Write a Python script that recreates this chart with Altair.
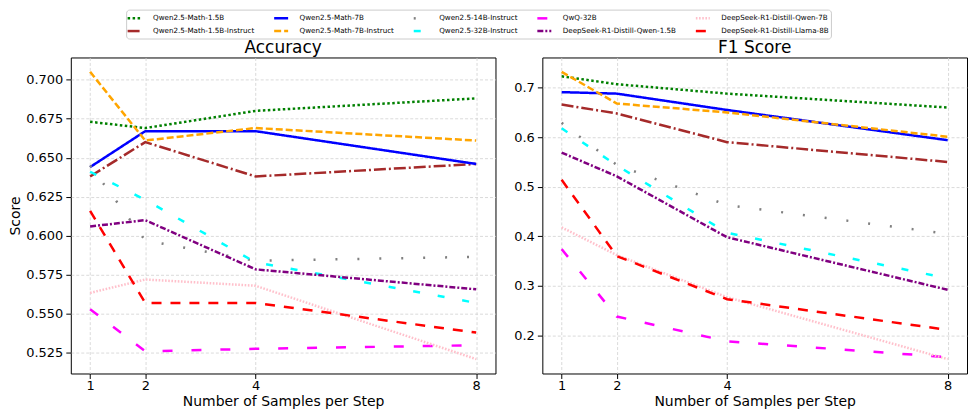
import altair as alt
import pandas as pd

steps = [1, 2, 4, 8]

# plotting order (also the legend's column-major order)
models = [
    "Qwen2.5-Math-1.5B", "Qwen2.5-Math-1.5B-Instruct", "Qwen2.5-Math-7B",
    "Qwen2.5-Math-7B-Instruct", "Qwen2.5-14B-Instruct", "Qwen2.5-32B-Instruct",
    "QwQ-32B", "DeepSeek-R1-Distill-Qwen-1.5B", "DeepSeek-R1-Distill-Qwen-7B",
    "DeepSeek-R1-Distill-Llama-8B",
]

# accuracy values
acc_math_1_5b = [0.673, 0.669, 0.680, 0.688]
acc_math_1_5b_inst = [0.638, 0.660, 0.638, 0.646]
acc_math_7b = [0.644, 0.667, 0.667, 0.646]
acc_math_7b_inst = [0.705, 0.661, 0.669, 0.661]
acc_14b_inst = [0.645, 0.597, 0.584, 0.5865]
acc_32b_inst = [0.641, 0.623, 0.583, 0.557]
acc_qwq = [0.553, 0.526, 0.5276, 0.5299]
acc_r1_qwen_1_5b = [0.606, 0.610, 0.5785, 0.5657]
acc_r1_qwen_7b = [0.5634, 0.572, 0.568, 0.521]
acc_r1_llama_8b = [0.616, 0.557, 0.557, 0.538]

# F1 values
f1_math_1_5b = [0.723, 0.707, 0.688, 0.660]
f1_math_1_5b_inst = [0.666, 0.648, 0.590, 0.550]
f1_math_7b = [0.691, 0.688, 0.655, 0.594]
f1_math_7b_inst = [0.732, 0.668, 0.650, 0.601]
f1_14b_inst = [0.629, 0.544, 0.463, 0.405]
f1_32b_inst = [0.618, 0.543, 0.407, 0.315]
f1_qwq = [0.374, 0.238, 0.188, 0.156]
f1_r1_qwen_1_5b = [0.569, 0.521, 0.398, 0.292]
f1_r1_qwen_7b = [0.418, 0.362, 0.277, 0.152]
f1_r1_llama_8b = [0.514, 0.360, 0.273, 0.211]

acc_series = [acc_math_1_5b, acc_math_1_5b_inst, acc_math_7b, acc_math_7b_inst,
              acc_14b_inst, acc_32b_inst, acc_qwq, acc_r1_qwen_1_5b,
              acc_r1_qwen_7b, acc_r1_llama_8b]
f1_series = [f1_math_1_5b, f1_math_1_5b_inst, f1_math_7b, f1_math_7b_inst,
             f1_14b_inst, f1_32b_inst, f1_qwq, f1_r1_qwen_1_5b,
             f1_r1_qwen_7b, f1_r1_llama_8b]

colors = ["green", "brown", "blue", "orange", "gray",
          "cyan", "magenta", "purple", "pink", "red"]
dashes = [[2.5, 2.5], [12, 3, 2, 3], [1, 0], [7, 3], [2, 20],
          [7, 18], [10, 19], [6, 2, 2, 2], [1.6, 1.6], [10, 9]]
widths = [2.5, 2.5, 2.5, 2.5, 2.2, 2.5, 2.5, 2.5, 2.0, 2.5]

rows = []
for m, a_vals, f_vals in zip(models, acc_series, f1_series):
    for s, a, f in zip(steps, a_vals, f_vals):
        rows.append({"metric": "acc", "model": m, "step": s, "value": a})
        rows.append({"metric": "f1", "model": m, "step": s, "value": f})
df = pd.DataFrame(rows)

FONT = "DejaVu Sans"
leg = alt.Legend(title=None)


def panel(metric, title, ydom, yticks, fmt, ytitle):
    if ytitle:
        yaxis = alt.Axis(values=yticks, format=fmt, title=ytitle)
    else:
        yaxis = alt.Axis(values=yticks, format=fmt, title=None)
    return alt.Chart(df[df.metric == metric]).mark_line(clip=True).encode(
        x=alt.X("step:Q", scale=alt.Scale(domain=[0.65, 8.35], nice=False, zero=False),
                axis=alt.Axis(values=steps, format="d", title="Number of Samples per Step")),
        y=alt.Y("value:Q", scale=alt.Scale(domain=ydom, nice=False, zero=False), axis=yaxis),
        color=alt.Color("model:N", scale=alt.Scale(domain=models, range=colors), legend=leg),
        strokeDash=alt.StrokeDash("model:N", scale=alt.Scale(domain=models, range=dashes), legend=leg),
        strokeWidth=alt.StrokeWidth("model:N", scale=alt.Scale(domain=models, range=widths), legend=None),
    ).properties(
        width=426, height=317,
        title=alt.TitleParams(title, fontSize=17, fontWeight="normal", offset=0, font=FONT, color="black"),
    )


left = panel("acc", "Accuracy", [0.5118, 0.7142],
             [0.525, 0.55, 0.575, 0.6, 0.625, 0.65, 0.675, 0.7], ".3f", "Score")
right = panel("f1", "F1 Score", [0.123, 0.761],
              [0.2, 0.3, 0.4, 0.5, 0.6, 0.7], ".1f", None)

chart = alt.hconcat(left, right, spacing=16).resolve_scale(
    y="independent", color="shared", strokeDash="shared", strokeWidth="shared"
).properties(
    padding={"left": 0, "top": 0, "right": 0, "bottom": 0}
).configure_view(
    stroke="black", strokeWidth=1
).configure_axis(
    domain=False, labelFont=FONT, labelFontSize=13, labelColor="black",
    tickColor="black", tickSize=5, labelPadding=3,
    titleFont=FONT, titleFontSize=14, titleFontWeight="normal", titleColor="black",
    titlePadding=3, gridColor="#d0d0d0", gridDash=[3, 2], gridWidth=0.8,
).configure_axisX(
    labelPadding=1, titlePadding=2,
).configure_legend(
    orient="none", legendX=55.5, legendY=-48, columns=5,
    labelFont=FONT, labelFontSize=7.2, labelColor="black", labelOffset=12,
    symbolType="M-1.4,0H1.4", symbolSize=100, symbolStrokeWidth=2.5,
    columnPadding=14, rowPadding=1, padding=2,
    strokeColor="#cccccc", cornerRadius=3, fillColor="white",
)

chart.save("out.html", embed_options={"renderer": "svg", "actions": False})
